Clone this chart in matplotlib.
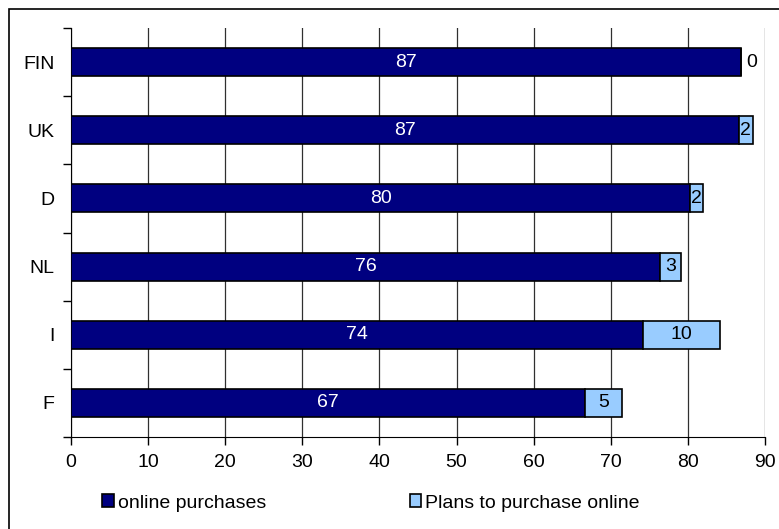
import numpy as np
import matplotlib.pyplot as plt
from matplotlib.patches import Rectangle

plt.rcParams['font.family'] = ['Liberation Sans', 'DejaVu Sans']

countries = ["FIN", "UK", "D", "NL", "I", "F"]
online = [86.9, 86.6, 80.3, 76.4, 74.2, 66.6]
plans = [0.0, 1.8, 1.6, 2.7, 9.9, 4.9]

dark = "#000080"
light = "#99CCFF"
fs = 14

fig = plt.figure(figsize=(7.79, 5.29), dpi=100)
ax = fig.add_axes([71 / 779, 1 - 437 / 529, (765 - 71) / 779, (437 - 28) / 529])

y = np.arange(len(countries))
b1 = ax.barh(y, online, height=0.41, color=dark, edgecolor="black", lw=1.2,
             label="online purchases", zorder=3)
b2 = ax.barh(y, plans, left=online, height=0.41, color=light, edgecolor="black",
             lw=1.2, label="Plans to purchase online", zorder=3)

for i in range(len(countries)):
    ax.text(online[i] / 2, y[i], "%.0f" % online[i], color="white",
            ha="center", va="center", fontsize=fs, zorder=4)
    if plans[i] == 0:
        ax.annotate("%.0f" % plans[i], (online[i], y[i]), xytext=(4, 0),
                    textcoords="offset points", ha="left", va="center",
                    fontsize=fs, zorder=4)
    else:
        ax.text(online[i] + plans[i] / 2, y[i], "%.0f" % plans[i],
                ha="center", va="center", fontsize=fs, zorder=4)

ax.set_xlim(0, 90)
ax.set_ylim(len(countries) - 0.5, -0.5)
ax.set_xticks(np.arange(0, 91, 10))
ax.set_yticks(y)
ax.set_yticklabels(countries)
ax.set_yticks(np.arange(-0.5, len(countries), 1), minor=True)
ax.tick_params(axis="y", which="major", length=0, pad=12, labelsize=fs)
ax.tick_params(axis="y", which="minor", length=6, direction="out", width=1)
ax.tick_params(axis="x", length=6, direction="out", width=1, labelsize=fs, pad=6)

ax.grid(axis="x", color="#303030", lw=0.9, zorder=1)
ax.spines["top"].set_visible(False)
ax.spines["right"].set_visible(False)
ax.spines["left"].set_color("black")
ax.spines["bottom"].set_color("black")

fig.legend(handles=[b1, b2], loc="center left",
           bbox_to_anchor=(102 / 779, 1 - 503 / 529), ncol=2, frameon=False,
           fontsize=fs, handlelength=0.6, handleheight=0.6,
           handletextpad=0.2, columnspacing=7.4, borderpad=0, borderaxespad=0)

# outer chart border
fig.patches.append(Rectangle((9 / 779, -0.1), 1.2, 1.1 - 9 / 529,
                             transform=fig.transFigure, fill=False,
                             edgecolor="black", lw=1.2))

plt.savefig("out.png", dpi=100)
